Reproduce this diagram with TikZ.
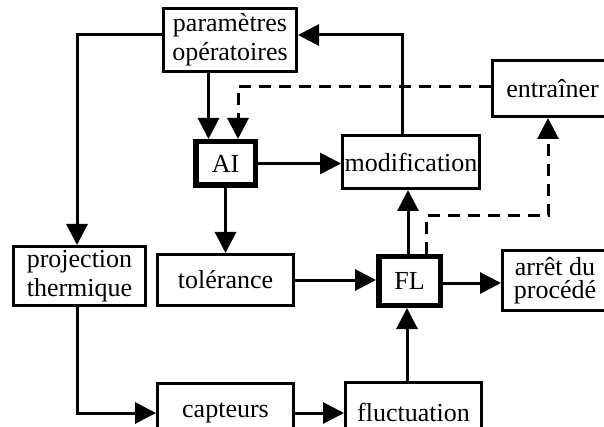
\documentclass[tikz,border=0pt]{standalone}
\usepackage{fontspec}
\setmainfont{Liberation Serif}
\usetikzlibrary{arrows.meta}
\begin{document}
\begin{tikzpicture}[x=1pt,y=-1pt,
  box/.style={draw, line width=3pt, inner sep=0pt, align=center,
    font=\fontsize{26}{29}\selectfont},
  keybox/.style={box, line width=5.5pt},
  flow/.style={line width=3pt, -{Triangle[length=21pt,width=21pt]}},
  dflow/.style={flow, dash pattern=on 12pt off 8pt},
]
\useasboundingbox (0,0) rectangle (604,427);

% blocks
\node[box, minimum width=133pt, minimum height=63pt] (param) at (230,40) {paramètres\\opératoires};
\node[keybox, minimum width=59.5pt, minimum height=43.5pt] (AI) at (225.5,163.5) {AI};
\node[box, minimum width=137pt, minimum height=53pt] (modif) at (411,162) {modification};
\node[box, minimum width=120pt, minimum height=56pt] (entr) at (552.5,88.5) {entraîner};
\node[box, minimum width=132pt, minimum height=59pt] (proj) at (79.5,276) {projection\\thermique};
\node[box, minimum width=136pt, minimum height=51pt] (tol) at (225.5,280) {tolérance};
\node[keybox, minimum width=61.5pt, minimum height=48.5pt] (FL) at (409.5,281) {FL};
\node[box, minimum width=105pt, minimum height=60pt, font=\fontsize{26}{23.5}\selectfont] (arret) at (555,280.5) {arrêt du\\procédé};
\node[box, minimum width=136pt, minimum height=59pt] (capt) at (225.5,413) {capteurs};
\node[box, minimum width=136pt, minimum height=59pt, text depth=0pt] (fluct) at (413.5,412) {fluctuation};

% connectors
\draw[flow] ([xshift=-17pt]AI.north |- param.south) -- ([xshift=-17pt]AI.north);
\draw[flow] ([yshift=5pt]param.west) -| ([xshift=-2.5pt]proj.north);
\draw[flow] ([xshift=-9pt]modif.north) |- ([yshift=5pt]param.east);
\draw[dflow] ([yshift=2pt]entr.west) -| ([xshift=12.5pt]AI.north);
\draw[flow] (AI.south) -- (tol.north);
\draw[flow] (AI.east) -- (AI.east -| modif.west);
\draw[flow] (tol.east) -- (tol.east -| FL.west);
\draw[flow] ([xshift=-1.5pt]FL.north) -- ([xshift=-1.5pt]FL.north |- modif.south);
\draw[dflow] ([xshift=16.5pt]FL.north) -- ++(0,-38) -| ([xshift=-4.5pt]entr.south);
\draw[flow] ([yshift=-2pt]FL.east) -- ([yshift=-2pt]FL.east -| arret.west);
\draw[flow] ([xshift=-2.5pt]proj.south) |- (capt.west);
\draw[flow] (capt.east) -- (capt.east -| fluct.west);
\draw[flow] ([xshift=-6.5pt]fluct.north) -- ([xshift=-6.5pt]fluct.north |- FL.south);
\end{tikzpicture}
\end{document}
